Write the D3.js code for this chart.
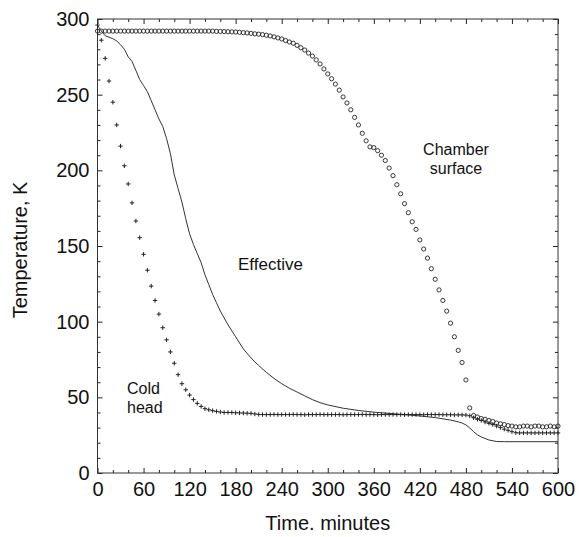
<!DOCTYPE html>
<html>
<head>
<meta charset="utf-8">
<script src="https://cdn.jsdelivr.net/npm/d3@7"></script>
<style>
  body { margin: 0; background: #fff; }
  text { font-family: "Liberation Sans", Arial, sans-serif; fill: #111; }
</style>
</head>
<body>
<div id="vis"></div>
<script>
// sampling grid of the marker series (every 5 minutes)
const sampleTimes = d3.range(0, 601, 5);

const chamberTemp = [
  292, 292, 292, 292, 292, 292, 292, 292, 292, 292, 292, 292, 292, 292, 292, 292,
  292, 292, 292, 292, 292, 292, 292, 292, 292, 292, 292, 292, 292, 292, 292,
  291.8, 291.8, 291.7, 291.6, 291.5, 291.4, 291.2, 291, 290.8, 290.5, 290.2, 290,
  289.7, 289.3, 288.8, 288.2, 287.5, 286.8, 285.8, 284.8, 284, 282.6, 281, 279.5,
  277.5, 275.5, 273, 270.3, 267, 263.7, 260.5, 257, 253, 248.5, 244.5, 240, 235,
  230, 224.5, 219.5, 215.5, 215, 213, 210, 206.5, 201.5, 196.5, 190.5, 184.5, 178,
  172, 166, 161, 154, 148, 142, 135, 128, 121, 114, 107, 99, 90, 81, 73, 61.5,
  43, 38, 37, 36, 35.5, 34.7, 34, 33, 32.5, 32, 31.3, 31, 30.5, 30.5, 31, 31,
  30.5, 31, 31, 30.5, 30.5, 31, 30.5, 31
];

const coldHeadTemp = [
  296, 286, 274, 259, 245, 230, 216, 203, 191, 178.5, 166.5, 155.5, 144.5, 134,
  123.5, 114, 105, 96, 88, 80, 72.5, 65, 59, 55, 51.5, 48.5, 46, 44, 42.5, 41.8,
  41.2, 40.7, 40.3, 40, 40, 40, 39.8, 39.7, 39.6, 39.5, 39.4, 39, 38.7, 38.6,
  38.6, 38.6, 38.7, 38.6, 38.6, 38.6, 38.6, 38.7, 38.6, 38.6, 38.5, 38.6, 38.6,
  38.6, 38.7, 38.6, 38.6, 38.6, 38.6, 38.6, 38.5, 38.6, 38.6, 38.6, 38.6, 38.7,
  38.6, 38.6, 38.6, 38.5, 38.6, 38.6, 38.6, 38.6, 38.6, 38.6, 38.5, 38.6, 38.6,
  38.6, 38.6, 38.5, 38.6, 38.6, 38.6, 38.6, 38.5, 38.5, 38.5, 38.4, 38.4, 38.4,
  38.3, 37.8, 36.5, 35.5, 34.7, 33.7, 32.8, 32, 31, 30, 29, 28.2, 27.3, 26.6,
  26.5, 26.5, 26.5, 26.5, 26.5, 26.5, 26.5, 26.5, 26.5, 26.5, 26.5
];

const effTime = [0, 5, 10, 15, 20, 25, 30, 35, 40, 45, 50, 55, 60, 65, 70, 75, 80, 85,
  90, 95, 100, 105, 110, 115, 120, 125, 130, 135, 140, 145, 150, 155, 160, 170, 180,
  190, 200, 210, 220, 230, 240, 250, 260, 270, 280, 290, 300, 320, 340, 360, 380,
  400, 420, 440, 460, 470, 475, 480, 485, 490, 495, 500, 510, 520, 530, 600];
const effTemp = [296, 292, 289, 288, 287, 285.5, 283, 280, 275, 272, 266, 260, 256,
  252, 246, 240, 234, 229, 221, 211, 197, 188, 179, 168, 158, 151, 145, 139, 131,
  124.5, 118, 112.5, 107, 98, 90, 82, 76, 71, 66.5, 62.5, 59, 56, 53.5, 51, 48.5,
  46.5, 45, 42.8, 41.3, 40.2, 39.4, 38.6, 37.7, 36.6, 35, 33.8, 33, 31.8, 29.8,
  27.3, 25.2, 23.8, 21.8, 20.8, 20.7, 20.7];

const xMajor = [0, 60, 120, 180, 240, 300, 360, 420, 480, 540, 600];
const yMajor = [0, 50, 100, 150, 200, 250, 300];

const W = 580, H = 537;
const margin = { top: 19, right: 22, bottom: 64, left: 97.5 };

const svg = d3.select('#vis')
  .append('svg')
    .attr('width', W)
    .attr('height', H);

const x = d3.scaleLinear().domain([0, 600]).range([margin.left, W - margin.right]);
const y = d3.scaleLinear().domain([0, 300]).range([H - margin.bottom, margin.top]);

const xMinor = d3.range(0, 601, 20).filter(v => v % 60 !== 0);
const yMinor = d3.range(0, 301, 10).filter(v => v % 50 !== 0);

function strip(g) {
  g.select('.domain').remove();
  g.selectAll('line').attr('stroke', '#222');
}

// bottom axis
svg.append('g')
  .attr('transform', `translate(0,${y(0)})`)
  .call(d3.axisBottom(x).tickValues(xMajor).tickSize(-5).tickPadding(9))
  .call(strip)
  .selectAll('text').style('font-size', '20px');
svg.append('g')
  .attr('transform', `translate(0,${y(0)})`)
  .call(d3.axisBottom(x).tickValues(xMinor).tickSize(-3).tickFormat(''))
  .call(strip);
// top axis
svg.append('g')
  .attr('transform', `translate(0,${y(300)})`)
  .call(d3.axisTop(x).tickValues(xMajor).tickSize(-5).tickFormat(''))
  .call(strip);
svg.append('g')
  .attr('transform', `translate(0,${y(300)})`)
  .call(d3.axisTop(x).tickValues(xMinor).tickSize(-3).tickFormat(''))
  .call(strip);
// left axis
svg.append('g')
  .attr('transform', `translate(${x(0)},0)`)
  .call(d3.axisLeft(y).tickValues(yMajor).tickSize(-5).tickPadding(8))
  .call(strip)
  .selectAll('text').style('font-size', '20px');
svg.append('g')
  .attr('transform', `translate(${x(0)},0)`)
  .call(d3.axisLeft(y).tickValues(yMinor).tickSize(-3).tickFormat(''))
  .call(strip);
// right axis
svg.append('g')
  .attr('transform', `translate(${x(600)},0)`)
  .call(d3.axisRight(y).tickValues(yMajor).tickSize(-5).tickFormat(''))
  .call(strip);
svg.append('g')
  .attr('transform', `translate(${x(600)},0)`)
  .call(d3.axisRight(y).tickValues(yMinor).tickSize(-3).tickFormat(''))
  .call(strip);

// frame
svg.append('rect')
  .attr('x', x(0)).attr('y', y(300))
  .attr('width', x(600) - x(0)).attr('height', y(0) - y(300))
  .attr('fill', 'none').attr('stroke', '#333').attr('stroke-width', 1);

// effective line
svg.append('path')
  .datum(effTime.map((t, i) => [t, effTemp[i]]))
  .attr('fill', 'none')
  .attr('stroke', '#333')
  .attr('stroke-width', 1)
  .attr('d', d3.line().x(d => x(d[0])).y(d => y(d[1])));

// cold head (+)
svg.append('g').selectAll('path')
  .data(sampleTimes.map((t, i) => [t, coldHeadTemp[i]]))
  .join('path')
    .attr('transform', d => `translate(${x(d[0])},${y(d[1])})`)
    .attr('d', 'M-2.2,0H2.2M0,-2.2V2.2')
    .attr('stroke', '#222')
    .attr('stroke-width', 1)
    .attr('fill', 'none');

// chamber surface (o)
svg.append('g').selectAll('circle')
  .data(sampleTimes.map((t, i) => [t, chamberTemp[i]]))
  .join('circle')
    .attr('cx', d => x(d[0]))
    .attr('cy', d => y(d[1]))
    .attr('r', 2.1)
    .attr('fill', 'none')
    .attr('stroke', '#222')
    .attr('stroke-width', 0.9);

// axis titles
svg.append('text')
  .attr('x', (x(0) + x(600)) / 2)
  .attr('y', 530)
  .attr('text-anchor', 'middle')
  .style('font-size', '20px')
  .text('Time. minutes');
svg.append('text')
  .attr('transform', 'translate(27,250) rotate(-90)')
  .attr('text-anchor', 'middle')
  .style('font-size', '20px')
  .text('Temperature, K');

// annotations
svg.append('text').attr('x', 456).attr('y', 155).attr('text-anchor', 'middle')
  .style('font-size', '16px').text('Chamber');
svg.append('text').attr('x', 456).attr('y', 174).attr('text-anchor', 'middle')
  .style('font-size', '16px').text('surface');
svg.append('text').attr('x', 238).attr('y', 270)
  .style('font-size', '17px').text('Effective');
svg.append('text').attr('x', 127).attr('y', 394)
  .style('font-size', '16px').text('Cold');
svg.append('text').attr('x', 127).attr('y', 413)
  .style('font-size', '16px').text('head');
</script>
</body>
</html>
